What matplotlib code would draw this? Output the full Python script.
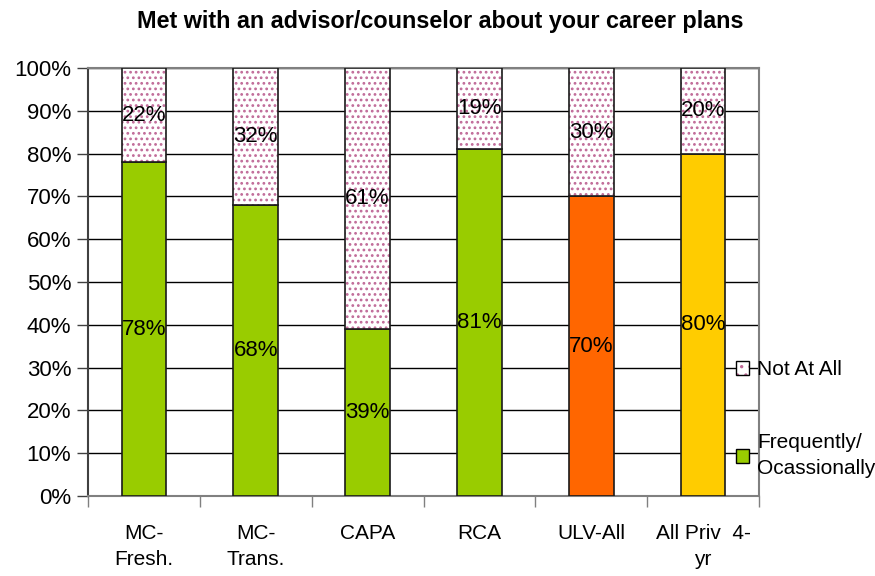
import matplotlib
matplotlib.use("Agg")
import matplotlib.pyplot as plt
from matplotlib.patches import Patch
import numpy as np

plt.rcParams['font.family'] = ['Liberation Sans', 'DejaVu Sans']
plt.rcParams['hatch.linewidth'] = 1.2

# data
categories = ['MC-\nFresh.', 'MC-\nTrans.', 'CAPA', 'RCA', 'ULV-All', 'All Priv  4-\nyr']
frequently = [78, 68, 39, 81, 70, 80]
not_at_all = [22, 32, 61, 19, 30, 20]
bar_colors = ['#99CC00', '#99CC00', '#99CC00', '#99CC00', '#FF6600', '#FFCC00']
dot_color = '#C06A98'

fig = plt.figure(figsize=(8.75, 5.76), dpi=100)
ax = fig.add_axes([88 / 875, 80 / 576, (759 - 88) / 875, (496 - 68) / 576])

x = np.arange(len(categories))
w = 0.40

# bottom segments
ax.bar(x, frequently, w, color=bar_colors, edgecolor='#1a1a1a', linewidth=1.2, zorder=3)
# top segments: dotted fill, then black outline on top
ax.bar(x, not_at_all, w, bottom=frequently, color='white', edgecolor=dot_color,
       hatch='...', linewidth=0, zorder=3)
ax.bar(x, not_at_all, w, bottom=frequently, fill=False, edgecolor='#1a1a1a',
       linewidth=1.2, zorder=4)

# value labels centred in each segment
for i in range(len(categories)):
    ax.text(x[i], frequently[i] / 2, '%d%%' % frequently[i], ha='center', va='center',
            fontsize=16, zorder=5)
    ax.text(x[i], frequently[i] + not_at_all[i] / 2, '%d%%' % not_at_all[i],
            ha='center', va='center', fontsize=16, zorder=5)

ax.set_xlim(-0.5, len(categories) - 0.5)
ax.set_ylim(0, 100)
ax.set_yticks(np.arange(0, 101, 10))
ax.set_yticklabels(['%d%%' % v for v in range(0, 101, 10)], fontsize=16)
ax.yaxis.grid(True, color='black', linewidth=1.0, zorder=0)
ax.set_axisbelow(True)

# category labels between boundary ticks
ax.set_xticks(x)
ax.set_xticklabels(categories, fontsize=15, linespacing=1.45)
ax.tick_params(axis='x', length=0, pad=20)
ax.set_xticks(np.arange(-0.5, len(categories)), minor=True)
ax.tick_params(axis='x', which='minor', length=8, color='#808080', width=1)
ax.tick_params(axis='y', length=8, color='#404040', width=1, pad=4)

for s in ['top', 'right', 'bottom']:
    ax.spines[s].set_color('#808080')
    ax.spines[s].set_linewidth(1.5)
ax.spines['left'].set_color('#404040')
ax.spines['left'].set_linewidth(1.5)

fig.text(0.503, 0.962, 'Met with an advisor/counselor about your career plans',
         ha='center', va='center', fontsize=16.8, fontweight='bold')

# legend: dotted swatch = pink dots + black outline
dots = Patch(facecolor='white', edgecolor=dot_color, hatch='..', linewidth=0)
outline = Patch(fill=False, edgecolor='black', linewidth=1)
green = Patch(facecolor='#99CC00', edgecolor='black', linewidth=1)
leg = fig.legend([(dots, outline), green], ['Not At All', 'Frequently/\nOcassionally'],
                 loc='upper left', bbox_to_anchor=(728 / 875, 1 - 352 / 576),
                 frameon=False, fontsize=15, handlelength=0.6, handleheight=0.6,
                 handletextpad=0.4, labelspacing=2.6, borderaxespad=0)
for t in leg.get_texts():
    t.set_linespacing(1.45)

fig.savefig('out.png', dpi=100)
